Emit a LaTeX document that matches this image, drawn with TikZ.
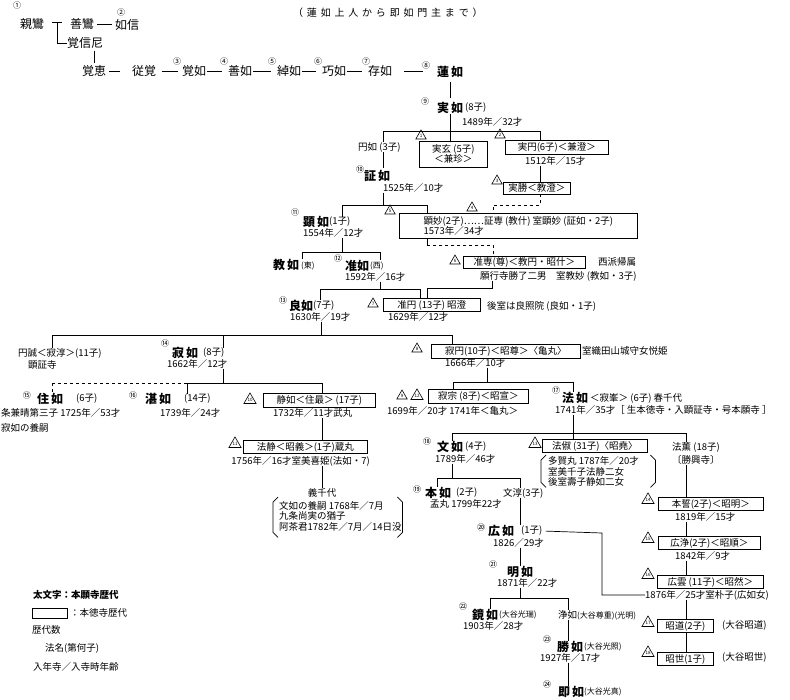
\documentclass[tikz,border=0pt]{standalone}
\usepackage{fontspec}
\setmainfont{Noto Sans CJK JP}
\usetikzlibrary{shapes.geometric,calc,positioning}
\tikzset{
        txt/.style = {inner sep=0pt, anchor=west,
            font=\fontsize{9.5}{10}\selectfont},
        small/.style = {inner sep=0pt, anchor=west,
            font=\fontsize{8}{9}\selectfont},
        old/.style = {inner sep=0pt, anchor=west,
            font=\fontsize{12}{12}\selectfont},
        head/.style = {inner sep=0pt, anchor=west,
            font=\bfseries\fontsize{12}{12}\selectfont},
        block/.style = {draw, rectangle, inner sep=1pt, anchor=west,
            line width=0.7pt, font=\fontsize{9.5}{10}\selectfont},
        num/.style = {inner sep=0pt, font=\fontsize{8}{8}\selectfont},
        tri/.style = {draw, regular polygon, regular polygon sides=3,
            minimum size=12pt, inner sep=0pt, line width=0.6pt,
            font=\fontsize{4.5}{4.5}\selectfont},
        link/.style = {draw, line width=0.7pt},
        adopt/.style = {draw, line width=0.7pt, dashed},
        chain/.style = {draw, line width=0.7pt, shorten <=3pt, shorten >=3pt},
    }
\newcommand\kikko[1]{%
  \draw[link] ($(#1.north west)+(5,0)$) -- ($(#1.north west)+(0,5)$)
     -- ($(#1.south west)+(0,-5)$) -- ($(#1.south west)+(5,0)$);
  \draw[link] ($(#1.north east)+(-5,0)$) -- ($(#1.north east)+(0,5)$)
     -- ($(#1.south east)+(0,-5)$) -- ($(#1.south east)+(-5,0)$);}

\begin{document}
\begin{tikzpicture}[x=1pt, y=-1pt]
\fill[white] (0,0) rectangle (790,699);
\useasboundingbox (0,0) rectangle (790,699);

\node[txt, font=\fontsize{10}{10}\selectfont\addfontfeature{LetterSpace=38}] (sub) at (293,13) {（蓮如上人から即如門主まで）};

% first generations
\node[num] (n1) at (17,5) {①};
\node[old] (shinran) at (20,24) {親鸞};
\node[old] (zenran) at (70,24) {善鸞};
\node[num] (n2) at (121,12) {②};
\node[old] (nyoshin) at (115,25) {如信};
\node[old] (kakushinni) at (67,43) {覚信尼};
\coordinate (t1) at (52,22);
\coordinate (t2) at (62,22);
\coordinate (t3) at (57,22);
\draw[link] (t1) -- (t2);
\draw[link] (t3) |- (kakushinni.west);
\draw[chain] (zenran) -- (nyoshin.west |- zenran);

\node[old] (kakue) at (82,71) {覚恵};
\node[old] (jukaku) at (132,71) {従覚};
\node[num] (n3) at (177,61) {③};
\node[old] (kakunyo) at (182,71) {覚如};
\node[num] (n4) at (224,61) {④};
\node[old] (zennyo) at (228,71) {善如};
\node[num] (n5) at (272,61) {⑤};
\node[old] (shakunyo) at (277,71) {綽如};
\node[num] (n6) at (318,61) {⑥};
\node[old] (gyonyo) at (322,71) {巧如};
\node[num] (n7) at (366,61) {⑦};
\node[old] (zonnyo) at (368,71) {存如};
\node[num] (n8) at (426,65) {⑧};
\node[head] (rennyo) at (437,72) {蓮\,如};
\draw[link, shorten <=2pt, shorten >=2pt] (kakushinni.south -| kakue.north) -- (kakue.north);
\draw[chain, shorten >=12pt] (kakue) -- (jukaku);
\draw[chain, shorten <=6pt, shorten >=4pt] (jukaku) -- (kakunyo);
\draw[chain, shorten <=1pt, shorten >=6pt] (kakunyo) -- (zennyo);
\draw[chain, shorten <=1pt, shorten >=6pt] (zennyo) -- (shakunyo);
\draw[chain, shorten <=1pt, shorten >=6pt] (shakunyo) -- (gyonyo);
\draw[chain, shorten <=1pt, shorten >=6pt] (gyonyo) -- (zonnyo);
\draw[chain, shorten <=12pt, shorten >=14pt] (zonnyo) -- (zonnyo -| rennyo.west);

% 9 jitsunyo
\node[num] (n9) at (425,101) {⑨};
\node[head] (jitsunyo) at (437,108) {実\,如};
\node[txt] (c9) at (465,108) {(8子)};
\node[txt] (y1489) at (462,122) {1489年／32才};
\draw[link, shorten <=4pt, shorten >=4pt] (rennyo.south) -- (jitsunyo.north);
\coordinate (b9l) at (383,131);
\coordinate (b9r) at (540,131);
\draw[link] (b9l) -- (b9r);

\node[txt] (ennyo) at (358,147) {円如 (3子)};
\node[tri] (tri1) at (421,136) {1};
\node[block, minimum width=68, minimum height=26, align=center] (jitsugen) at (419,154) {実玄 (5子)\\＜兼珍＞};
\node[tri] (tri2) at (500,135) {2};
\node[block, minimum width=103, minimum height=14] (jitsuen) at (505,147) {実円(6子)＜兼澄＞};
\node[txt] (y1512) at (525,161) {1512年／15才};
\node[tri] (tri3) at (497,181) {3};
\node[block, minimum width=67, minimum height=12] (jissho) at (503,188) {実勝＜教澄＞};
\draw[link] (jitsunyo.south) -- (jitsunyo.south |- jitsugen.north);
\draw[link] (b9l) -- (b9l |- ennyo.north);
\draw[link] (b9r) -- (b9r |- jitsuen.north);
\draw[link] (b9r |- y1512.south) -- (b9r |- jissho.north);

% 10 shonyo
\node[num] (n10) at (360,169) {⑩};
\node[head] (shonyo) at (364,176) {証\,如};
\node[txt] (y1525) at (383,188) {1525年／10才};
\draw[link, shorten >=2pt] (b9l |- ennyo.south) -- (b9l |- shonyo.north);
\coordinate (b10) at (383,205);
\coordinate (b10l) at (342,205);
\coordinate (b10r) at (427,205);
\draw[link] (b10 |- y1525.south) -- (b10);
\draw[link] (b10l) -- (b10r);

\node[tri] (tri4) at (472,208) {4};
\node[tri] (tri5) at (390,211) {5};
\node[block, minimum width=238, minimum height=25, align=left, inner xsep=4pt] (kenmyo) at (399,226) {顕妙(2子)……証専 (教什) 室顕妙 (証如・2子)\\1573年／34才};
\coordinate (d1) at (540,205);
\coordinate (d2) at (493,205);
\draw[adopt] (jissho.south -| b9r) -- (d1) -- (d2) -- (d2 |- kenmyo.north);
\draw[link] (b10r) -- (b10r |- kenmyo.north);

% 11 kennyo
\node[num] (n11) at (295,212) {⑪};
\node[head] (kennyo) at (303,222) {顕\,如};
\node[txt] (c11) at (329,222) {(1子)};
\node[txt] (y1554) at (303,233) {1554年／12才};
\draw[link] (b10l) -- (b10l |- c11.north);
\coordinate (b11) at (342,252);
\coordinate (b11l) at (302,252);
\coordinate (b11r) at (380,252);
\draw[link] (b11 |- y1554.south) -- (b11);
\draw[link] (b11l) -- (b11r);

\node[head] (kyonyo) at (273,265) {教\,如};
\node[small] (east) at (301,266) {(東)};
\node[num] (n12) at (338,258) {⑫};
\node[head] (junnyo) at (345,266) {准如};
\node[small] (west) at (370,266) {(西)};
\node[txt] (y1592) at (345,277) {1592年／16才};
\draw[link] (b11l) -- (b11l |- kyonyo.north);
\draw[link] (b11r) -- (b11r |- junnyo.north);

\node[tri] (tri6) at (455,261) {6};
\node[block, minimum width=122, minimum height=12] (junsen) at (463,262) {准専(尊)＜教円・昭什＞};
\node[txt] (seiha) at (598,262) {西派帰属};
\node[txt] (junsen2) at (480,276) {願行寺勝了二男　室教妙 (教如・3子)};
\coordinate (e1) at (427,245);
\coordinate (e2) at (493,245);
\draw[link] (b10r |- kenmyo.south) -- (e1);
\draw[adopt] (e1) -- (e2) -- (e2 |- junsen.north);

% 13 ryonyo
\node[num] (n13) at (283,300) {⑬};
\node[head] (ryonyo) at (289,306) {良如};
\node[txt] (c13) at (313,306) {(7子)};
\node[txt] (y1630) at (290,317) {1630年／19才};
\node[tri] (tri7) at (373,304) {7};
\node[block, minimum width=97, minimum height=13] (junen) at (383,305) {准円 (13子) 昭澄};
\node[txt] (y1629) at (388,317) {1629年／12才};
\node[txt] (goshitsu) at (487,306) {後室は良照院 (良如・1子)};
\coordinate (f1) at (492,288);
\coordinate (f2) at (427,288);
\draw[link] (f1 |- junsen2.south) -- (f1) -- (f2) -- (f2 |- junen.north);
\coordinate (g1) at (380,289);
\coordinate (gl) at (320,289);
\coordinate (gr) at (420,289);
\draw[link] (g1 |- y1592.south) -- (g1);
\draw[link] (gl) -- (gr);
\draw[link] (gl) -- (gl |- ryonyo.north);
\draw[link] (gr) -- (gr |- junen.north);

% ryonyo children
\coordinate (h1) at (321,335);
\coordinate (hl) at (52,335);
\coordinate (hm) at (223,335);
\coordinate (hr) at (452,335);
\draw[link] (h1 |- y1630.south) -- (h1);
\draw[link] (hl) -- (hr);
\node[txt] (ensei) at (18,353) {円誠＜寂淳＞(11子)};
\node[txt] (kenshoji) at (28,365) {顕証寺};
\node[num] (n14) at (165,343) {⑭};
\node[head] (jakunyo) at (172,353) {寂\,如};
\node[txt] (c14) at (203,353) {(8子)};
\node[txt] (y1662) at (167,364) {1662年／12才};
\node[tri] (tri8) at (417,349) {8};
\node[block, minimum width=149, minimum height=14] (jakuen) at (431,351) {寂円(10子)＜昭尊＞〈亀丸〉};
\node[txt] (oda) at (582,351) {室織田山城守女悦姫};
\node[txt] (y1666) at (445,363) {1666年／10才};
\draw[link] (hl) -- (hl |- ensei.north);
\draw[link] (hm) -- (hm |- c14.north);
\draw[link] (hr) -- (hr |- jakuen.north);

% jakunyo children
\coordinate (k1) at (223,383);
\coordinate (kl) at (52,383);
\coordinate (km) at (187,383);
\coordinate (kr) at (322,383);
\draw[link] (k1 |- y1662.south) -- (k1);
\draw[adopt] (kl) -- (km);
\draw[link] (km) -- (kr);
\node[num] (n15) at (27,395) {⑮};
\node[head] (junyo) at (37,399) {住\,如};
\node[txt] (c15) at (76,399) {(6子)};
\node[txt] (junyo2) at (1,413) {条兼晴第三子 1725年／53才};
\node[txt] (junyo3) at (1,428) {寂如の養嗣};
\node[num] (n16) at (133,395) {⑯};
\node[head] (tannyo) at (145,399) {湛\,如};
\node[txt] (c16) at (184,399) {(14子)};
\node[txt] (y1739) at (160,413) {1739年／24才};
\node[tri] (tri10) at (250,400) {10};
\node[block, minimum width=112, minimum height=14] (seinyo) at (263,400) {静如＜住最＞ (17子)};
\node[txt] (y1732) at (273,413) {1732年／11才武丸};
\draw[adopt] (kl) -- (kl |- junyo.north);
\draw[link] (km) -- (km |- c16.north);
\draw[link] (kr) -- (kr |- seinyo.north);

% jakuen children
\coordinate (m1) at (487,382);
\coordinate (ml) at (453,382);
\coordinate (mr) at (573,382);
\draw[link] (m1 |- y1666.south) -- (m1);
\draw[link] (ml) -- (mr);
\node[tri] (tri9) at (402,396) {9};
\node[tri] (tri12) at (417,396) {12};
\node[block, minimum width=100, minimum height=14] (jakushu) at (428,396) {寂宗 (8子)＜昭宣＞};
\node[txt] (y1699) at (387,411) {1699年／20才 1741年＜亀丸＞};
\node[num] (n17) at (556,390) {⑰};
\node[head] (honyo) at (562,398) {法\,如};
\node[txt] (c17) at (590,398) {＜寂峯＞ (6子) 春千代};
\node[txt] (y1741) at (555,410) {1741年／35才［ 生本徳寺・入顕証寺・号本願寺 ］};
\draw[link] (ml) -- (ml |- jakushu.north);
\draw[link] (mr) -- (mr |- honyo.north);

% seinyo line
\node[tri] (tri11) at (235,444) {11};
\node[block, minimum width=124, minimum height=13] (hojo) at (243,447) {法静＜昭義＞(1子)蔵丸};
\node[txt, anchor=east] (y1756) at (370,461) {1756年／16才室美喜姫(法如・7)};
\draw[link] (kr |- y1732.south) -- (kr |- hojo.north);
\node[txt, anchor=center] (gi0) at (322,493) {義千代};
\node[txt] (gi1) at (279,506) {文如の養嗣 1768年／7月};
\node[txt] (gi2) at (279,516) {九条尚実の猶子};
\node[txt] (gi3) at (279,527) {阿茶君1782年／7月／14日没};
\node[inner sep=0pt, minimum width=129, minimum height=40, anchor=north west] (gib) at (273,497) {};
\kikko{gib}
\draw[link] (kr |- y1756.south) -- (kr |- gi0.north);

% honyo children
\coordinate (p1) at (573,433);
\coordinate (pl) at (452,433);
\coordinate (pr) at (686,433);
\draw[link] (pl) -- (pr);
\node[num] (n18) at (427,441) {⑱};
\node[head] (bunnyo) at (437,447) {文\,如};
\node[txt] (c18) at (465,447) {(4子)};
\node[txt] (y1789) at (435,459) {1789年／46才};
\node[tri] (tri13) at (535,444) {13};
\node[block, minimum width=105, minimum height=13] (hoshuku) at (542,446) {法俶 (31子)〈昭堯〉};
\node[txt] (ho1) at (548,461) {多賀丸 1787年／20才};
\node[txt] (ho2) at (548,472) {室美千子法静二女};
\node[txt] (ho3) at (548,482) {後室壽子静如二女};
\node[inner sep=0pt, minimum width=114, minimum height=32, anchor=north west] (hob) at (541,455) {};
\kikko{hob}
\node[txt] (hokun) at (672,447) {法薫 (18子)};
\node[txt] (shokoji) at (672,460) {〔勝興寺〕};
\draw[link] (p1 |- y1741.south) -- (p1 |- hoshuku.north);
\draw[link] (pl) -- (pl |- bunnyo.north);
\draw[link] (pr) -- (pr |- hokun.north);

% bunnyo children
\coordinate (q1) at (452,478);
\coordinate (ql) at (437,478);
\coordinate (qr) at (520,478);
\draw[link] (q1 |- y1789.south) -- (q1);
\draw[link] (ql) -- (qr);
\node[num] (n19) at (417,489) {⑲};
\node[head] (honnyo) at (425,493) {本\,如};
\node[txt] (c19) at (456,493) {(2子)};
\node[txt] (moumaru) at (430,504) {孟丸 1799年22才};
\node[txt] (bunjun) at (503,493) {文淳(3子)};
\node[num] (n20) at (481,527) {⑳};
\node[head] (konyo) at (488,531) {広\,如};
\node[txt] (c20) at (521,531) {(1子)};
\node[txt] (y1826) at (493,543) {1826／29才};
\draw[link] (ql) -- (ql |- honnyo.north);
\draw[link] (qr) -- (qr |- bunjun.north);
\draw[link] (qr |- bunjun.south) -- (qr |- konyo.north);

\node[num] (n21) at (493,564) {㉑};
\node[head] (meinyo) at (507,572) {明\,如};
\node[txt] (y1871) at (497,583) {1871年／22才};
\draw[link] (qr |- y1826.south) -- (qr |- meinyo.north);
\coordinate (s1) at (520,598);
\coordinate (sl) at (490,598);
\coordinate (sr) at (568,598);
\draw[link] (s1 |- y1871.south) -- (s1);
\draw[link] (sl) -- (sr);
\node[num] (n22) at (463,606) {㉒};
\node[head] (kyonyo2) at (472,615) {鏡\,如};
\node[small] (c22) at (499,615) {(大谷光瑞)};
\node[txt] (y1903) at (463,626) {1903年／28才};
\node[txt] (jonyo) at (558,615) {浄如{\fontsize{8}{9}\selectfont(大谷尊重)(光明)}};
\draw[link] (sl) -- (sl |- kyonyo2.north);
\draw[link] (sr) -- (sr |- jonyo.north);
\node[num] (n23) at (547,639) {㉓};
\node[head] (shonyo2) at (557,647) {勝\,如};
\node[small] (c23) at (584,647) {(大谷光照)};
\node[txt] (y1927) at (540,658) {1927年／17才};
\draw[link] (sr |- jonyo.south) -- (sr |- shonyo2.north);
\node[num] (n24) at (547,684) {㉔};
\node[head] (sokunyo) at (558,692) {即\,如};
\node[small] (c24) at (584,692) {(大谷光真)};
\draw[link] (sr |- y1927.south) -- (sr |- sokunyo.north);

% hontokuji right column
\node[tri] (tri14) at (648,500) {14};
\node[block, minimum width=105, minimum height=13] (honsei) at (658,504) {本誓(2子)＜昭明＞};
\node[txt] (y1819) at (675,517) {1819年／15才};
\node[tri] (tri15) at (648,539) {15};
\node[block, minimum width=102, minimum height=13] (kojo) at (658,543) {広浄(2子)＜昭順＞};
\node[txt] (y1842) at (675,556) {1842年／9才};
\node[tri] (tri16) at (648,575) {16};
\node[block, minimum width=106, minimum height=13] (kouun) at (657,582) {広雲 (11子)＜昭然＞};
\node[txt] (kouun2) at (645,595) {1876年／25才室朴子(広如女)};
\node[tri] (tri17) at (648,623) {17};
\node[block, minimum width=56, minimum height=13] (shodo) at (657,626) {昭道(2子)};
\node[txt] (shodo2) at (722,625) {(大谷昭道)};
\node[tri] (tri18) at (648,653) {18};
\node[block, minimum width=56, minimum height=13] (shose) at (657,659) {昭世(1子)};
\node[txt] (shose2) at (722,657) {(大谷昭世)};
\draw[link] (pr |- shokoji.south) -- (pr |- honsei.north);
\draw[link] (pr |- y1819.south) -- (pr |- kojo.north);
\draw[link] (pr |- y1842.south) -- (pr |- kouun.north);
\draw[link] (pr |- kouun2.south) -- (pr |- shodo.north);
\draw[link] (pr |- shodo.south) -- (pr |- shose.north);
\coordinate (r1) at (602,533);
\coordinate (r2) at (602,595);
\draw[link, shorten <=3pt] (c20.east) -- (r1) -- (r2) -- (kouun2.west);

% legend
\node[txt, font=\bfseries\fontsize{9.5}{10}\selectfont] (lg1) at (33,595) {太文字：本願寺歴代};
\node[draw, line width=0.7pt, minimum width=35, minimum height=10, anchor=west] (lgbox) at (32,613) {};
\node[txt] (lg2) at (70,613) {：本徳寺歴代};
\node[txt] (lg3) at (32,630) {歴代数};
\node[txt] (lg4) at (45,648) {法名(第何子)};
\node[txt] (lg5) at (33,667) {入年寺／入寺時年齢};
\end{tikzpicture}
\end{document}
